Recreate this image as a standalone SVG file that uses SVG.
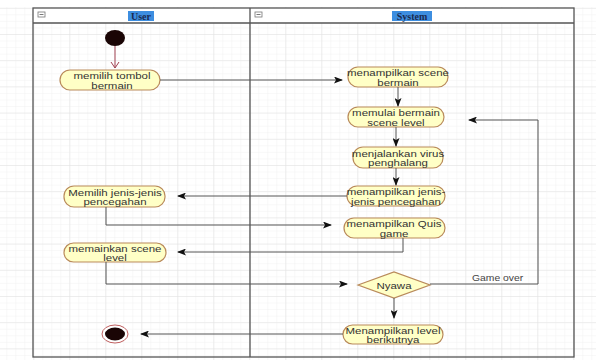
<svg xmlns="http://www.w3.org/2000/svg" width="596" height="360" viewBox="0 0 596 360">
<defs>
<pattern id="minor" x="33.3" y="34" width="9" height="6.55" patternUnits="userSpaceOnUse">
<path d="M0 0H9M0 0V6.55" fill="none" stroke="#f1f1f1" stroke-width="1"/>
</pattern>
<pattern id="major" x="33.3" y="34" width="36" height="26.2" patternUnits="userSpaceOnUse">
<path d="M0 0H36M0 0V26.2" fill="none" stroke="#e2e2e2" stroke-width="1"/>
</pattern>
<marker id="arr" markerWidth="9" markerHeight="7" refX="8" refY="3.5" orient="auto" markerUnits="userSpaceOnUse">
<path d="M0 0L9 3.5L0 7L2 3.5Z" fill="#111"/>
</marker>
<marker id="open" markerWidth="10" markerHeight="10" refX="5" refY="8" orient="0" markerUnits="userSpaceOnUse">
<path d="M1 2L5 8L9 2" fill="none" stroke="#a04050" stroke-width="1"/>
</marker>
</defs>
<style>
.node rect,.node polygon{fill:#ffffc6;stroke:#b98a5a;stroke-width:1.2}
.node text{font-family:"Liberation Sans",Arial,sans-serif;font-size:8.5px;fill:#333;text-anchor:middle}
.lane{fill:none;stroke:#555;stroke-width:1.3}
.hdr{font-family:"Liberation Serif","Times New Roman",serif;font-size:10px;font-weight:bold;fill:#1a2a50;text-anchor:middle}
.conn path{fill:none;stroke:#555;stroke-width:1}
.lbl{font-family:"Liberation Sans",Arial,sans-serif;font-size:9px;fill:#444}
</style>
<rect width="596" height="360" fill="#fff"/>
<rect width="596" height="360" fill="url(#minor)"/>
<rect width="596" height="360" fill="url(#major)"/>
<rect x="0" y="0" width="596" height="7" fill="#fff"/>
<g id="lanes">
<rect x="33" y="8" width="541" height="15" fill="#fff"/>
<rect class="lane" x="33" y="8" width="541" height="349"/>
<path class="lane" d="M33 23H574M250 8V357"/>
<rect x="38" y="12" width="7" height="5" fill="#fff" stroke="#777" stroke-width="0.8"/>
<path d="M39.5 14.5H43.5" stroke="#555" stroke-width="0.8"/>
<rect x="255" y="12" width="7" height="5" fill="#fff" stroke="#777" stroke-width="0.8"/>
<path d="M256.5 14.5H260.5" stroke="#555" stroke-width="0.8"/>
<rect x="128" y="11" width="26" height="10" fill="#3d8ee0"/>
<text class="hdr" x="141" y="19.5">User</text>
<rect x="392" y="11" width="40" height="10" fill="#3d8ee0"/>
<text class="hdr" x="412" y="19.5">System</text>
</g>
<g id="start"><ellipse cx="115" cy="38" rx="10" ry="8" fill="#1a0505"/></g>
<g id="n1" class="node"><rect x="60" y="70" width="100" height="20" rx="10"/><g transform="translate(112,80) scale(1.35,1)"><text y="-1">memilih tombol</text><text y="8.6">bermain</text></g></g>
<g id="n2" class="node"><rect x="348" y="67" width="100" height="20" rx="10"/><g transform="translate(398,77) scale(1.35,1)"><text y="-1">menampilkan scene</text><text y="8.6">bermain</text></g></g>
<g id="n3" class="node"><rect x="348" y="107" width="96" height="20" rx="10"/><g transform="translate(396,117) scale(1.35,1)"><text y="-1">memulai bermain</text><text y="8.6">scene level</text></g></g>
<g id="n4" class="node"><rect x="353" y="147" width="90" height="21" rx="10"/><g transform="translate(398,157.5) scale(1.35,1)"><text y="-1">menjalankan virus</text><text y="8.6">penghalang</text></g></g>
<g id="n5" class="node"><rect x="347" y="186" width="98" height="20" rx="10"/><g transform="translate(396,196) scale(1.35,1)"><text y="-1">menampilkan jenis-</text><text y="8.6">jenis pencegahan</text></g></g>
<g id="n6" class="node"><rect x="64" y="186" width="101" height="21" rx="10"/><g transform="translate(115,196.5) scale(1.35,1)"><text y="-1">Memilih jenis-jenis</text><text y="8.6">pencegahan</text></g></g>
<g id="n7" class="node"><rect x="344" y="218" width="101" height="20" rx="10"/><g transform="translate(394,228) scale(1.35,1)"><text y="-1">menampilkan Quis</text><text y="8.6">game</text></g></g>
<g id="n8" class="node"><rect x="64" y="243" width="102" height="19" rx="9.5"/><g transform="translate(115,252.5) scale(1.35,1)"><text y="-1">memainkan scene</text><text y="8.6">level</text></g></g>
<g id="d1" class="node"><polygon points="358,285 394,272 430,285 394,298"/><g transform="translate(394,288.5) scale(1.35,1)"><text>Nyawa</text></g></g>
<g id="n9" class="node"><rect x="343" y="325" width="100" height="19" rx="9.5"/><g transform="translate(393,334.5) scale(1.35,1)"><text y="-1">Menampilkan level</text><text y="8.6">berikutnya</text></g></g>
<g id="end"><ellipse cx="115" cy="334" rx="13" ry="9" fill="#fff" stroke="#c06060" stroke-width="1"/><ellipse cx="115" cy="334" rx="10" ry="6.5" fill="#1a0505"/></g>
<g id="connectors" class="conn">
<path d="M115 46V68" marker-end="url(#open)" style="stroke:#a04050"/>
<path d="M160 80H342" marker-end="url(#arr)"/>
<path d="M398 87V106" marker-end="url(#arr)"/>
<path d="M396 127V146" marker-end="url(#arr)"/>
<path d="M396 168V185" marker-end="url(#arr)"/>
<path d="M347 196H178" marker-end="url(#arr)"/>
<path d="M106 207V225H331" marker-end="url(#arr)"/>
<path d="M403 238V252H178" marker-end="url(#arr)"/>
<path d="M106 262V284H347" marker-end="url(#arr)"/>
<path d="M430 284H538V120H469" marker-end="url(#arr)"/>
<path d="M394 298V318" marker-end="url(#arr)"/>
<path d="M343 334H141" marker-end="url(#arr)"/>
</g>
<text class="lbl" x="472" y="281" transform="translate(472,0) scale(1.15,1) translate(-472,0)">Game over</text>
</svg>
